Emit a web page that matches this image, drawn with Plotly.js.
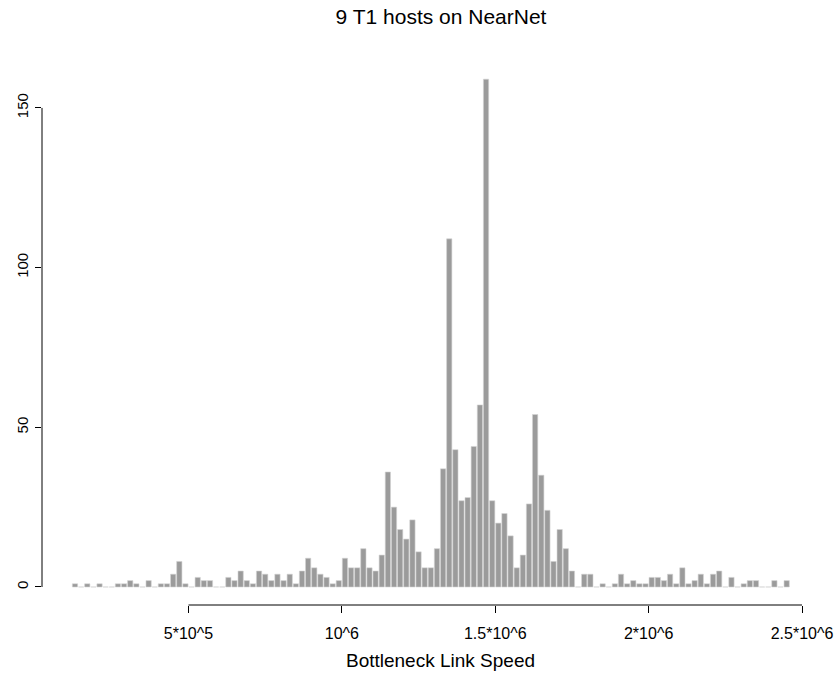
<!DOCTYPE html>
<html>
<head>
<meta charset="utf-8">
<script src="https://cdn.plot.ly/plotly-3.0.1.min.js"></script>
<style>html,body{margin:0;padding:0;background:#fff;}#chart{width:839px;height:677px;}</style>
</head>
<body>
<div id="chart"></div>
<script>
// Histogram counts, bins of width 2e4 starting at 1.2e5 (first bin centre 1.3e5)
const binStartCentre = 130000;
const binWidth = 20000;
const counts = [
  1,0,1,0,1,0,0,1,1,2,
  1,0,2,0,1,1,4,8,1,0,
  3,2,2,0,0,3,2,5,2,1,
  5,4,2,4,2,4,1,5,9,6,
  4,3,1,2,9,6,6,12,6,5,
  10,36,25,18,15,21,11,6,6,12,
  37,109,43,27,28,44,57,159,27,20,
  23,16,6,10,26,54,35,24,8,18,
  12,5,0,4,4,0,1,0,1,4,
  1,2,1,1,3,3,2,4,1,6,
  1,2,4,1,4,5,0,3,0,1,
  2,2,0,0,2,0,2
];
const xTickVals = [500000, 1000000, 1500000, 2000000, 2500000];
const xTickText = ["5*10^5", "10^6", "1.5*10^6", "2*10^6", "2.5*10^6"];
const yTickVals = [0, 50, 100, 150];
const yTickText = ["0", "50", "100", "150"];
const titleText = "9 T1 hosts on NearNet";
const xTitle = "Bottleneck Link Speed";

const font = "Liberation Sans, Arial, Helvetica, sans-serif";

const trace = {
  type: "bar",
  x0: binStartCentre,
  dx: binWidth,
  y: counts,
  marker: {color: "#9b9b9b", line: {color: "#d4d4d4", width: 0.6}},
  hoverinfo: "x+y"
};

const layout = {
  width: 839, height: 677,
  margin: {l: 42, r: 0, t: 60, b: 72},
  paper_bgcolor: "#fff", plot_bgcolor: "#fff",
  bargap: 0.14,
  showlegend: false,
  title: {text: titleText, font: {family: font, size: 21, color: "#000"},
          x: 441/839, xref: "container", xanchor: "center", y: 1 - 17/677, yref: "container", yanchor: "middle"},
  xaxis: {
    range: [22400, 2620600],
    tickmode: "array", tickvals: xTickVals, ticktext: xTickText,
    ticks: "outside", ticklen: 7, tickwidth: 1, tickcolor: "#000",
    ticklabelstandoff: 7,
    showgrid: false, zeroline: false, showline: false,
    tickfont: {family: font, size: 16, color: "#000"},
    title: {text: xTitle, font: {family: font, size: 19, color: "#000"}, standoff: 12}
  },
  yaxis: {
    range: [-5.64, 165.0],
    tickmode: "array", tickvals: yTickVals, ticktext: yTickText,
    ticks: "outside", ticklen: 6, tickwidth: 1, tickcolor: "#000",
    tickangle: -90,
    ticklabelstandoff: 1,
    showgrid: false, zeroline: false, showline: false,
    tickfont: {family: font, size: 15, color: "#000"}
  },
  shapes: [
    {type: "line", xref: "x", yref: "paper", x0: xTickVals[0], x1: xTickVals[xTickVals.length-1], y0: 0, y1: 0,
     line: {color: "#000", width: 1}},
    {type: "line", xref: "paper", yref: "y", x0: 0, x1: 0, y0: yTickVals[0], y1: yTickVals[yTickVals.length-1],
     line: {color: "#000", width: 1}}
  ]
};

Plotly.newPlot("chart", [trace], layout, {displayModeBar: false, staticPlot: true});
</script>
</body>
</html>
